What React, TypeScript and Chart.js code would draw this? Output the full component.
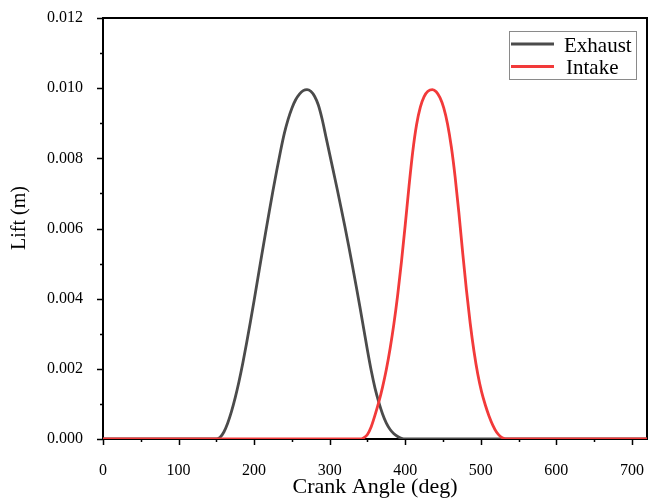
import React, { useEffect, useRef } from "react";
import { Chart, registerables } from "chart.js";

Chart.register(...registerables);

// ---- data ----
const exhaustAngle = [0, 150, 155, 160, 165, 170, 175, 180, 185, 190, 195, 200, 205, 210, 215, 220, 225, 230, 235, 240, 245, 250, 255, 260, 265, 270, 275, 280, 285, 290, 295, 300, 305, 310, 315, 320, 325, 330, 335, 340, 345, 350, 355, 360, 365, 370, 375, 380, 385, 390, 395, 400, 720];
const exhaustLift = [0, 0, 0.00005, 0.0002, 0.00045, 0.00078, 0.00118, 0.00164, 0.00216, 0.00273, 0.00333, 0.00395, 0.00459, 0.00523, 0.00586, 0.00648, 0.00708, 0.00766, 0.00821, 0.00871, 0.00911, 0.00943, 0.00967, 0.00983, 0.00993, 0.00996, 0.00991, 0.00977, 0.00952, 0.00912, 0.00862, 0.00812, 0.00762, 0.00712, 0.0066, 0.00607, 0.00552, 0.00495, 0.00437, 0.00377, 0.00315, 0.00253, 0.00195, 0.00145, 0.00105, 0.00071, 0.00045, 0.00027, 0.00015, 0.00007, 0.00002, 0, 0];

const intakeAngle = [0, 342, 345, 350, 355, 360, 365, 370, 375, 380, 385, 390, 395, 400, 405, 410, 415, 420, 425, 430, 436, 441, 446, 451, 456, 461, 466, 471, 476, 481, 486, 491, 496, 501, 506, 511, 516, 521, 526, 531, 534, 720];
const intakeLift = [0, 0, 0.00003, 0.00013, 0.00035, 0.00068, 0.00105, 0.00148, 0.00198, 0.00258, 0.00328, 0.0041, 0.00505, 0.0061, 0.0072, 0.0082, 0.00896, 0.00946, 0.00976, 0.00991, 0.00996, 0.0099, 0.00973, 0.00944, 0.00898, 0.00833, 0.00748, 0.00645, 0.00532, 0.00425, 0.0033, 0.0025, 0.00185, 0.00135, 0.00097, 0.00065, 0.00039, 0.00019, 0.00007, 0.00001, 0, 0];

const xMajorTicks = [0, 100, 200, 300, 400, 500, 600, 700];
const xMinorTicks = [50, 150, 250, 350, 450, 550, 650];
const yMajorTicks = [0, 0.002, 0.004, 0.006, 0.008, 0.01, 0.012];
const yMinorTicks = [0.001, 0.003, 0.005, 0.007, 0.009, 0.011];

const seriesNames = ["Exhaust", "Intake"];
const seriesColors = ["#4b4b4b", "#f23a3a"];
const xTitle = "Crank Angle (deg)";
const yTitle = "Lift (m)";

const SERIF = "'Liberation Serif', 'Times New Roman', serif";

const framePlugin = {
  id: "frameAndTicks",
  beforeDatasetsDraw(chart: any) {
    const { ctx, chartArea, scales } = chart;
    const { left, right, top, bottom } = chartArea;
    ctx.save();
    ctx.strokeStyle = "#000";
    ctx.lineWidth = 2;
    ctx.strokeRect(left, top, right - left, bottom - top);
    ctx.lineWidth = 1.5;
    const xs = scales.x;
    const ys = scales.y;
    ctx.beginPath();
    xMajorTicks.forEach((v) => {
      const px = Math.round(xs.getPixelForValue(v)) + 0.5;
      ctx.moveTo(px, bottom);
      ctx.lineTo(px, bottom + 6);
    });
    xMinorTicks.forEach((v) => {
      const px = Math.round(xs.getPixelForValue(v)) + 0.5;
      ctx.moveTo(px, bottom);
      ctx.lineTo(px, bottom + 3);
    });
    yMajorTicks.forEach((v) => {
      const py = Math.round(ys.getPixelForValue(v)) + 0.5;
      ctx.moveTo(left, py);
      ctx.lineTo(left - 6, py);
    });
    yMinorTicks.forEach((v) => {
      const py = Math.round(ys.getPixelForValue(v)) + 0.5;
      ctx.moveTo(left, py);
      ctx.lineTo(left - 3, py);
    });
    ctx.stroke();
    ctx.restore();
  },
  afterDraw(chart: any) {
    const { ctx, chartArea } = chart;
    ctx.save();
    // axis titles
    ctx.fillStyle = "#000";
    ctx.textAlign = "center";
    ctx.textBaseline = "middle";
    ctx.font = `22px ${SERIF}`;
    ctx.fillText(xTitle, (chartArea.left + chartArea.right) / 2, 487);
    ctx.save();
    ctx.translate(20, 218);
    ctx.rotate(-Math.PI / 2);
    ctx.font = `20px ${SERIF}`;
    ctx.fillText(yTitle, 0, 0);
    ctx.restore();

    // legend
    const bx = 509.5, by = 31.5, bw = 127, bh = 48;
    ctx.fillStyle = "#fff";
    ctx.fillRect(bx, by, bw, bh);
    ctx.strokeStyle = "#8a8a8a";
    ctx.lineWidth = 1;
    ctx.strokeRect(bx, by, bw, bh);
    const rows = [44, 66.5];
    ctx.font = `21px ${SERIF}`;
    ctx.textAlign = "left";
    ctx.textBaseline = "alphabetic";
    seriesNames.forEach((name, i) => {
      ctx.strokeStyle = seriesColors[i];
      ctx.lineWidth = 3;
      ctx.beginPath();
      ctx.moveTo(511, rows[i]);
      ctx.lineTo(554, rows[i]);
      ctx.stroke();
      ctx.fillStyle = "#000";
      ctx.fillText(name, i === 0 ? 564 : 566, rows[i] + 7.5);
    });
    ctx.restore();
  },
};

export default function App() {
  const canvasRef = useRef<HTMLCanvasElement | null>(null);

  useEffect(() => {
    const canvas = canvasRef.current;
    if (!canvas) return;
    const exhaustData = exhaustAngle.map((a, i) => ({ x: a, y: exhaustLift[i] }));
    const intakeData = intakeAngle.map((a, i) => ({ x: a, y: intakeLift[i] }));
    const chart = new Chart(canvas, {
      type: "line",
      data: {
        datasets: [
          {
            label: seriesNames[0],
            data: exhaustData,
            borderColor: seriesColors[0],
            borderWidth: 2.8,
            pointRadius: 0,
            cubicInterpolationMode: "monotone",
            fill: false,
            order: 1,
          },
          {
            label: seriesNames[1],
            data: intakeData,
            borderColor: seriesColors[1],
            borderWidth: 2.8,
            pointRadius: 0,
            cubicInterpolationMode: "monotone",
            fill: false,
            order: 0,
          },
        ],
      },
      options: {
        responsive: false,
        animation: false,
        layout: { padding: { top: 18, right: 1, left: 0, bottom: 0 } },
        plugins: {
          legend: { display: false },
          tooltip: { enabled: false },
          title: { display: false },
        },
        scales: {
          x: {
            type: "linear",
            min: 0,
            max: 720,
            grid: { display: false },
            border: { display: false },
            ticks: {
              color: "#000",
              font: { family: SERIF, size: 16 },
              padding: 14,
              maxRotation: 0,
              includeBounds: false,
            },
            afterBuildTicks: (s: any) => {
              s.ticks = xMajorTicks.map((v) => ({ value: v }));
            },
            afterFit: (s: any) => {
              s.height = 60;
              s.paddingLeft = 0;
              s.paddingRight = 0;
            },
          },
          y: {
            type: "linear",
            min: 0,
            max: 0.012,
            grid: { display: false },
            border: { display: false },
            ticks: {
              color: "#000",
              font: { family: SERIF, size: 16 },
              padding: 12,
              callback: (v: any) => Number(v).toFixed(3),
            },
            afterBuildTicks: (s: any) => {
              s.ticks = yMajorTicks.map((v) => ({ value: v }));
            },
            afterFit: (s: any) => {
              s.width = 103;
              s.paddingTop = 0;
              s.paddingBottom = 0;
            },
          },
        },
      },
      plugins: [framePlugin],
    });
    return () => chart.destroy();
  }, []);

  return (
    <div style={{ position: "fixed", left: 0, top: 0, width: 648, height: 499, background: "#fff" }}>
      <canvas ref={canvasRef} width={648} height={499} style={{ display: "block" }} />
    </div>
  );
}
